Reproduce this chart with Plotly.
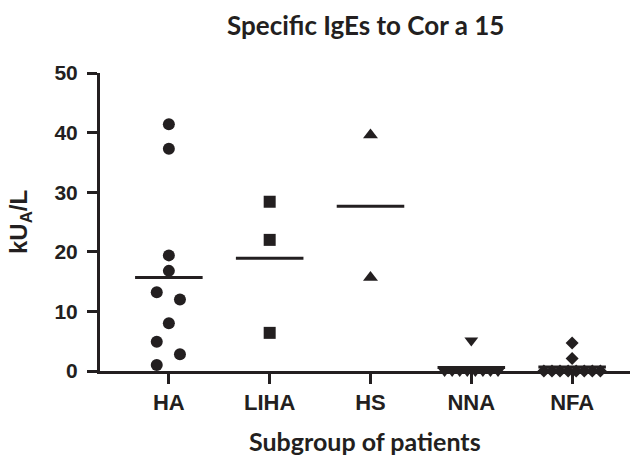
import plotly.graph_objects as go

# ---- data ----
categories = ["HA", "LIHA", "HS", "NNA", "NFA"]
ha_values = [41.4, 37.3, 19.4, 16.8, 13.2, 12.0, 8.0, 4.9, 2.8, 1.0]
liha_values = [28.4, 22.0, 6.4]
hs_values = [39.6, 15.7]
nna_values = [5.1, 0, 0, 0, 0, 0, 0, 0, 0]
nfa_values = [4.7, 2.1, 0, 0, 0, 0, 0, 0, 0, 0]

# ---- horizontal scatter offsets (in category units) ----
ha_offsets = [0, 0, 0, 0, -0.12, 0.11, 0, -0.12, 0.11, -0.12]
liha_offsets = [0, 0, 0]
hs_offsets = [0, 0]
nna_offsets = [0, -0.265, -0.19, -0.115, -0.04, 0.04, 0.115, 0.19, 0.265]
nfa_offsets = [0, 0, -0.28, -0.2, -0.12, -0.04, 0.04, 0.12, 0.2, 0.28]

groups = [
    (ha_values, ha_offsets, "circle", 12),
    (liha_values, liha_offsets, "square", 12),
    (hs_values, hs_offsets, "triangle-up", 13),
    (nna_values, nna_offsets, "triangle-down", 12),
    (nfa_values, nfa_offsets, "diamond", 10),
]

INK = "#231f20"
fig = go.Figure()

for i, (vals, offs, sym, size) in enumerate(groups):
    fig.add_trace(go.Scatter(
        x=[i + o for o in offs], y=vals, mode="markers",
        marker=dict(symbol=sym, size=size, color=INK, line=dict(width=0)),
        cliponaxis=False, showlegend=False, hoverinfo="y"))
    mean = sum(vals) / len(vals)
    fig.add_trace(go.Scatter(
        x=[i - 0.335, i + 0.335], y=[mean, mean], mode="lines",
        line=dict(color=INK, width=3), cliponaxis=False,
        showlegend=False, hoverinfo="skip"))

xtick_font = dict(family="Liberation Sans, Arial, sans-serif", size=22, color=INK, weight="bold")
ytick_font = dict(family="Liberation Sans, Arial, sans-serif", size=21, color=INK, weight="bold")
title_font = dict(family="Lato, Open Sans, sans-serif", size=26, color=INK, weight="bold")
xtitle_font = dict(family="Lato, Open Sans, sans-serif", size=25, color=INK, weight="bold")

W, H = 631, 448
L, R, T, B = 92, 9, 65, 85
PH = H - T - B

fig.update_layout(
    width=W, height=H,
    margin=dict(l=L, r=R, t=T, b=B),
    paper_bgcolor="white", plot_bgcolor="white",
    xaxis=dict(
        range=[-0.683, 4.574], tickmode="array",
        tickvals=list(range(len(categories))), ticktext=categories,
        showline=True, linecolor=INK, linewidth=3,
        ticks="outside", ticklen=10, tickwidth=3, tickcolor=INK,
        showgrid=False, zeroline=False, tickfont=xtick_font),
    yaxis=dict(
        range=[0, 50], tickmode="array", tickvals=[0, 10, 20, 30, 40, 50],
        showline=True, linecolor=INK, linewidth=3,
        ticks="outside", ticklen=10, tickwidth=3, tickcolor=INK,
        ticklabelstandoff=5,
        showgrid=False, zeroline=False, tickfont=ytick_font),
    annotations=[
        dict(text="Specific IgEs to Cor a 15", xref="paper", yref="paper",
             x=0.5, y=1 + (T - 17) / PH, xanchor="center", yanchor="middle",
             showarrow=False, font=title_font),
        dict(text="Subgroup of patients", xref="paper", yref="paper",
             x=0.5, y=-(433 - (H - B)) / PH, xanchor="center", yanchor="middle",
             showarrow=False, font=xtitle_font),
        dict(text="kU<sub>A</sub>/L", xref="paper", yref="paper",
             x=(12 - L) / (W - L - R), y=0.5, xanchor="center", yanchor="middle",
             textangle=-90, showarrow=False,
             font=dict(family="Liberation Sans, Arial, sans-serif", size=24, color=INK, weight="bold")),
    ],
)

fig.write_html("out.html")
